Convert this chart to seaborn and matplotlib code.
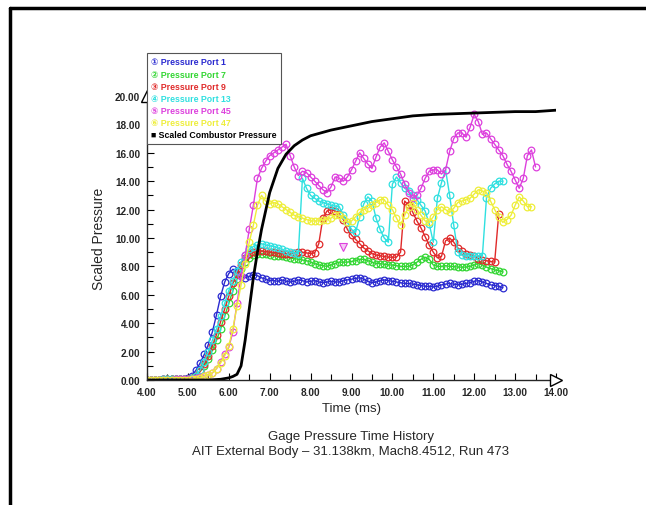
import numpy as np
import pandas as pd
import matplotlib
matplotlib.use("Agg")
import matplotlib.pyplot as plt
from matplotlib.lines import Line2D
from matplotlib.font_manager import FontProperties
import seaborn as sns

# sample clock of the gauges (ms), 0.1 ms step
t_port1 = np.round(np.arange(4.0, 12.75, 0.1), 2)
t_port7 = np.round(np.arange(4.0, 12.75, 0.1), 2)
t_port9 = np.round(np.arange(4.0, 12.65, 0.1), 2)
t_port13 = np.round(np.arange(4.0, 12.75, 0.1), 2)
t_port45 = np.round(np.arange(4.0, 13.55, 0.1), 2)
t_port47 = np.round(np.arange(4.0, 13.45, 0.1), 2)

port1 = [0.0, 0.0, 0.0, 0.0, 0.05, 0.05, 0.05, 0.1, 0.1, 0.1, 0.15,
         0.3, 0.7, 1.2, 1.8, 2.5, 3.4, 4.6, 5.9, 6.9, 7.5, 7.8, 7.7, 7.3, 7.2, 7.3, 7.4, 7.35, 7.2, 7.1,
         7.0, 7.0, 6.95, 7.05, 6.95, 6.9, 6.95, 7.05, 7.0, 6.9, 6.95, 7.0, 6.9, 6.85, 6.9, 6.95, 6.9,
         6.9, 7.0, 7.05, 7.1, 7.15, 7.2, 7.1, 6.95, 6.85, 6.9, 7.0, 7.05, 7.0, 6.95, 6.9, 6.85, 6.8,
         6.8, 6.75, 6.7, 6.65, 6.6, 6.6, 6.55, 6.6, 6.7, 6.75, 6.8, 6.75, 6.7, 6.75, 6.8, 6.85, 6.95,
         7.0, 6.9, 6.8, 6.7, 6.65, 6.6, 6.5]

port7 = [0.0, 0.0, 0.0, 0.0, 0.0, 0.05, 0.05, 0.05, 0.1, 0.1, 0.1,
         0.15, 0.3, 0.6, 1.0, 1.5, 2.1, 2.8, 3.6, 4.5, 5.4, 6.3, 7.1, 7.8, 8.3, 8.6, 8.8, 8.9, 8.9,
         8.85, 8.8, 8.75, 8.7, 8.7, 8.65, 8.6, 8.55, 8.5, 8.45, 8.4, 8.3, 8.2, 8.1, 8.05, 8.0, 8.1,
         8.2, 8.3, 8.3, 8.3, 8.35, 8.4, 8.5, 8.5, 8.4, 8.3, 8.2, 8.2, 8.15, 8.1, 8.1, 8.05, 8.0, 8.0,
         8.0, 8.1, 8.3, 8.5, 8.65, 8.5, 8.1, 8.0, 8.0, 8.05, 8.0, 8.0, 7.95, 7.95, 7.95, 8.0, 8.1,
         8.2, 8.1, 7.95, 7.85, 7.75, 7.7, 7.6]

port9 = [0.0, 0.0, 0.0, 0.0, 0.05, 0.05, 0.05, 0.1, 0.1, 0.1, 0.1,
         0.15, 0.3, 0.6, 1.1, 1.7, 2.4, 3.2, 4.1, 5.0, 5.9, 6.8, 7.5, 8.1, 8.6, 8.9, 9.0, 9.05, 9.1,
         9.05, 9.0, 9.0, 8.95, 8.9, 8.9, 8.9, 8.95, 9.0, 9.0, 8.95, 8.9, 8.95, 9.6, 11.4, 11.9, 12.0,
         11.9, 11.7, 11.3, 10.6, 10.2, 9.9, 9.6, 9.3, 9.1, 8.9, 8.8, 8.75, 8.7, 8.65, 8.65, 8.65,
         9.0, 12.6, 12.3, 11.8, 11.2, 10.7, 10.1, 9.5, 9.0, 8.6, 8.7, 9.8, 10.0, 9.7, 9.3, 9.1, 8.9,
         8.8, 8.7, 8.55, 8.45, 8.4, 8.35, 8.3, 11.7]

port13 = [0.0, 0.0, 0.0, 0.0, 0.05, 0.05, 0.05, 0.1, 0.1, 0.1, 0.1,
          0.15, 0.3, 0.7, 1.3, 2.0, 2.8, 3.6, 4.5, 5.4, 6.3, 7.0, 7.7, 8.3, 8.8, 9.2, 9.4, 9.5, 9.6,
          9.5, 9.45, 9.4, 9.3, 9.2, 9.1, 9.0, 8.95, 8.9, 14.2, 13.5, 13.0, 12.8, 12.6, 12.5, 12.4,
          12.3, 12.25, 12.2, 11.6, 11.1, 10.6, 10.4, 11.5, 12.4, 12.9, 12.6, 11.4, 10.6, 10.0, 9.7,
          13.8, 14.3, 13.9, 13.5, 13.3, 13.0, 12.7, 12.3, 11.9, 11.0, 9.7, 12.8, 13.9, 14.8, 13.0,
          10.9, 9.0, 8.8, 8.75, 8.7, 8.7, 8.75, 8.75, 12.8, 13.5, 13.8, 14.0, 14.0]

port45 = [0.0, 0.0, 0.0, 0.0, 0.0, 0.0, 0.0, 0.05, 0.05, 0.05, 0.1,
          0.1, 0.15, 0.2, 0.25, 0.35, 0.5, 0.8, 1.3, 1.8, 2.3, 3.4, 5.4, 7.3, 8.8, 10.6, 12.3, 14.2,
          14.9, 15.4, 15.8, 16.0, 16.2, 16.4, 16.6, 15.8, 15.0, 14.4, 14.7, 14.6, 14.3, 14.0, 13.7,
          13.4, 13.2, 13.6, 14.3, 14.2, 14.0, 14.3, 14.8, 15.4, 16.0, 15.6, 15.2, 14.9, 15.7, 16.4,
          16.7, 16.1, 15.5, 15.0, 14.5, 13.8, 13.2, 12.8, 13.0, 13.5, 14.2, 14.7, 14.8, 14.8, 14.5,
          14.8, 16.1, 17.0, 17.4, 17.4, 17.1, 17.8, 18.7, 18.2, 17.3, 17.4, 17.0, 16.6, 16.2, 15.8,
          15.2, 14.7, 14.1, 13.5, 14.2, 15.8, 16.2, 15.0]

port47 = [0.0, 0.0, 0.0, 0.0, 0.0, 0.0, 0.0, 0.0, 0.0, 0.0, 0.0,
          0.05, 0.1, 0.15, 0.25, 0.35, 0.5, 0.8, 1.2, 1.7, 2.4, 3.6, 5.2, 6.7, 8.2, 9.7, 10.9, 12.3,
          13.0, 12.6, 12.4, 12.5, 12.4, 12.2, 12.0, 11.8, 11.6, 11.5, 11.4, 11.3, 11.2, 11.2, 11.2,
          11.3, 11.3, 11.4, 11.6, 11.6, 11.4, 11.1, 11.2, 11.5, 11.8, 12.0, 12.1, 12.3, 12.5, 12.7,
          12.7, 12.3, 12.0, 11.4, 10.9, 11.6, 12.2, 12.5, 12.0, 11.6, 11.2, 11.1, 11.5, 12.0, 12.2,
          12.0, 11.8, 12.1, 12.5, 12.6, 12.7, 12.8, 13.1, 13.4, 13.3, 13.2, 12.6, 12.0, 11.5, 11.1,
          11.3, 11.6, 12.3, 12.9, 12.6, 12.2, 12.2]

t_comb = [4.0, 5.5, 5.8, 6.0, 6.1, 6.2, 6.3, 6.4, 6.5, 6.6, 6.7, 6.8, 6.9, 7.0, 7.2, 7.4, 7.6,
          7.8, 8.0, 8.5, 9.0, 9.5, 10.0, 10.5, 11.0, 11.5, 12.0, 12.5, 13.0, 13.5, 14.0]
comb = [0.0, 0.0, 0.05, 0.15, 0.25, 0.4, 1.0, 2.8, 5.0, 7.2, 9.0, 10.6, 11.9, 13.2, 14.9, 15.9,
        16.5, 16.9, 17.2, 17.6, 17.9, 18.2, 18.4, 18.6, 18.7, 18.75, 18.8, 18.85, 18.9, 18.9, 19.0]

# lone marker near 8.8 ms
t_flag = [8.8]
p_flag = [9.35]

labels = ["Pressure Port 1", "Pressure Port 7", "Pressure Port 9",
          "Pressure Port 13", "Pressure Port 45", "Pressure Port 47"]
digits = ["\u2460", "\u2461", "\u2462", "\u2463", "\u2464", "\u2465"]
colors = ["#2a2ad0", "#33d633", "#e02a2a", "#2fe0e0", "#dd40dd", "#eeee3a"]
times = [t_port1, t_port7, t_port9, t_port13, t_port45, t_port47]
series = [port1, port7, port9, port13, port45, port47]

sns.set_style("ticks")
plt.rcParams['font.family'] = ['Liberation Sans', 'DejaVu Sans', 'Noto Sans CJK SC']

fig = plt.figure(figsize=(6.46, 5.06), dpi=100)
ax = fig.add_axes([147/646, 1-381/506, 409/646, 284/506])

for tt, pp, c in zip(times, series, colors):
    sns.lineplot(x=tt, y=pp, ax=ax, color=c, lw=1.0, marker='o', ms=4.8,
                 mfc='none', mec=c, mew=0.9, errorbar=None, legend=False)

sns.lineplot(x=t_comb, y=comb, ax=ax, color='black', lw=2.0, errorbar=None, legend=False)
ax.plot(t_flag, p_flag, ls='none', marker='v', ms=6, mfc='#f4c8f4', mec='#dd40dd', mew=0.8)

ax.set_xlim(4, 14)
ax.set_ylim(0, 20)
ax.set_xticks(np.arange(4, 14.1, 1))
ax.set_xticks(np.arange(4.5, 14, 1), minor=True)
ax.set_yticks(np.arange(0, 20.1, 2))
ax.set_yticks(np.arange(1, 20, 2), minor=True)
ax.set_xticklabels([f"{v:.2f}" for v in np.arange(4, 14.1, 1)])
ax.set_yticklabels([f"{v:.2f}" for v in np.arange(0, 20.1, 2)])
ax.tick_params(which='both', direction='in', width=0.8, color='black')
ax.tick_params(which='major', length=5, labelsize=7.2, pad=5)
ax.tick_params(which='minor', length=4)
for lab in ax.get_xticklabels() + ax.get_yticklabels():
    lab.set_fontweight('bold')
sns.despine(ax=ax)
ax.spines['left'].set_linewidth(1.0)
ax.spines['bottom'].set_linewidth(1.0)
ax.set_facecolor('white')

# open arrow heads at axis ends
ax.plot([14], [0], marker='>', ms=8, mfc='white', mec='black', mew=1.0, clip_on=False, zorder=5)
ax.plot([4], [20], marker='^', ms=8, mfc='white', mec='black', mew=1.0, clip_on=False, zorder=5)

ax.set_xlabel("Time (ms)", fontsize=9.5)
ax.set_ylabel("Scaled Pressure", fontsize=10, labelpad=6)

handles = [Line2D([], [], ls='none') for _ in range(7)]
leg_labels = [d + " " + l for d, l in zip(digits, labels)] + ["\u25a0 Scaled Combustor Pressure"]
leg = fig.legend(handles, leg_labels, loc='upper left',
                 bbox_to_anchor=(147/646, 1-54/506), bbox_transform=fig.transFigure,
                 prop=FontProperties(family=['Liberation Sans', 'DejaVu Sans', 'Noto Sans CJK SC'],
                                     weight='bold', size=6.3),
                 handlelength=0, handletextpad=0, labelspacing=0.36,
                 borderpad=0.5, borderaxespad=0, fancybox=False, framealpha=1)
leg.get_frame().set_edgecolor('#555555')
leg.get_frame().set_linewidth(0.8)
for txt, c in zip(leg.get_texts(), colors + ['black']):
    txt.set_color(c)

fig.text(351/646, 1-437/506, "Gage Pressure Time History", ha='center', va='center', fontsize=9.5)
fig.text(351/646, 1-452/506, "AIT External Body \u2013 31.138km, Mach8.4512, Run 473",
         ha='center', va='center', fontsize=9.5)

# page frame (top and left edges)
fig.add_artist(Line2D([9.5/646, 9.5/646], [0, 1-8.5/506], transform=fig.transFigure, color='black', lw=2.5))
fig.add_artist(Line2D([9.5/646, 1], [1-8.5/506, 1-8.5/506], transform=fig.transFigure, color='black', lw=2.5))

fig.savefig("out.png", dpi=100, facecolor='white')
